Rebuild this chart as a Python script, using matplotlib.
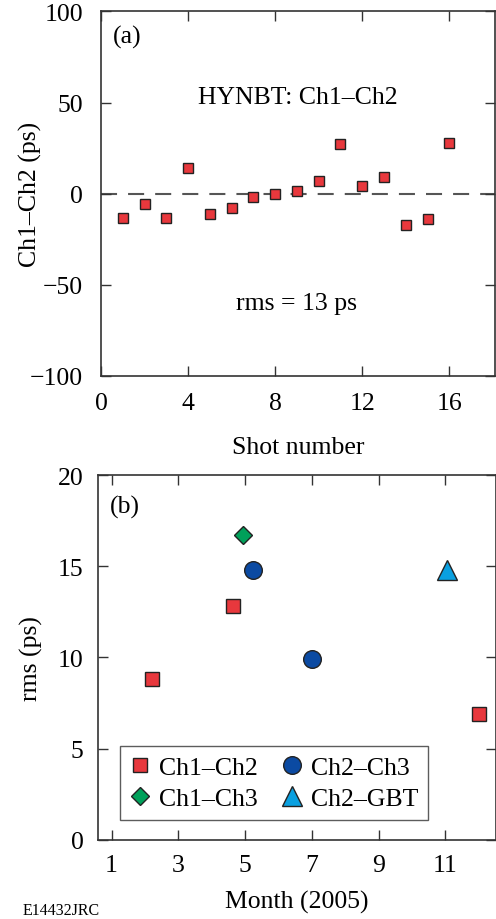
import numpy as np
import matplotlib
matplotlib.use('Agg')
import matplotlib.pyplot as plt

plt.rcParams['font.family'] = ['Liberation Serif', 'DejaVu Serif']
plt.rcParams['axes.unicode_minus'] = True

# ── (a) HYNBT shot-to-shot Ch1-Ch2 difference ─────────
shots = [1, 2, 3, 4, 5, 6, 7, 8, 9, 10, 11, 12, 13, 14, 15, 16]
ch1_ch2 = [-13.2, -5.9, -13.2, 14.1, -11.4, -8.1, -1.8, -0.5, 1.6, 7.0,
           27.0, 4.0, 9.2, -17.0, -14.1, 27.8]

# ── (b) rms by month ──────────────────────────────────
month_12 = [2.2, 4.65, 12.0]
rms_12 = [8.8, 12.8, 6.9]
month_13 = [4.95]
rms_13 = [16.7]
month_23 = [5.25, 7.0]
rms_23 = [14.8, 9.9]
month_gbt = [11.05]
rms_gbt = [14.8]

RED = '#e8383d'
GREEN = '#00a05a'
DBLUE = '#0b4aa2'
LBLUE = '#0aa0e0'
EDGE = '#222222'
FS = 18.5

fig = plt.figure(figsize=(4.96, 9.2), dpi=100)

def style(ax, xpad, ypad):
    ax.tick_params(direction='in', length=7, width=1.0, top=True, right=True,
                   labelsize=FS, color='#333333')
    ax.tick_params(axis='x', pad=xpad)
    ax.tick_params(axis='y', pad=ypad)
    for s in ax.spines.values():
        s.set_linewidth(1.2)
        s.set_color('#333333')

ax1 = fig.add_axes([0.2036, 0.5905, 0.7944, 0.396])
ax1.axhline(0, color='#555555', lw=1.5, dashes=(7.7, 5.3), zorder=1)
ax1.plot(shots, ch1_ch2, 's', ms=7.0, mfc=RED, mec=EDGE, mew=1.0, zorder=3)
ax1.set_xlim(0, 18.1)
ax1.set_ylim(-100, 100)
ax1.set_xticks([0, 4, 8, 12, 16])
ax1.set_yticks([-100, -50, 0, 50, 100])
style(ax1, 11.5, 13)
ax1.set_xlabel('Shot number', fontsize=FS, labelpad=16)
ax1.set_ylabel('Ch1–Ch2 (ps)', fontsize=FS)
ax1.yaxis.set_label_coords(-0.15, 0.5)
ax1.text(0.03, 0.93, '(a)', transform=ax1.transAxes, fontsize=FS, va='center', ha='left')
ax1.text(0.50, 0.765, 'HYNBT: Ch1–Ch2', transform=ax1.transAxes, fontsize=FS,
         va='center', ha='center')
ax1.text(0.495, 0.20, 'rms = 13 ps', transform=ax1.transAxes, fontsize=FS,
         va='center', ha='center')

ax2 = fig.add_axes([0.198, 0.0859, 0.801, 0.3967])
ax2.plot(month_12, rms_12, 's', ms=9.8, mfc=RED, mec=EDGE, mew=1.0, label='Ch1–Ch2')
ax2.plot(month_13, rms_13, 'D', ms=9.5, mfc=GREEN, mec=EDGE, mew=1.0, label='Ch1–Ch3')
ax2.plot(month_23, rms_23, 'o', ms=12.7, mfc=DBLUE, mec=EDGE, mew=1.0, label='Ch2–Ch3')
ax2.plot(month_gbt, rms_gbt, '^', ms=14, mfc=LBLUE, mec=EDGE, mew=1.0, label='Ch2–GBT')
ax2.set_xlim(0.6, 12.5)
ax2.set_ylim(0, 20)
ax2.set_xticks([1, 3, 5, 7, 9, 11])
ax2.set_yticks([0, 5, 10, 15, 20])
style(ax2, 10, 10.5)
ax2.set_xlabel('Month (2005)', fontsize=FS, labelpad=10)
ax2.set_ylabel('rms (ps)', fontsize=FS)
ax2.yaxis.set_label_coords(-0.14, 0.5)
ax2.text(0.03, 0.915, '(b)', transform=ax2.transAxes, fontsize=FS, va='center', ha='left')

handles, labels = ax2.get_legend_handles_labels()
leg = ax2.legend(handles, labels, loc='lower left', bbox_to_anchor=(0.055, 0.055),
                 ncol=2, fontsize=FS, frameon=True, fancybox=False,
                 handlelength=0.8, handletextpad=0.35, columnspacing=0.9,
                 borderpad=0.38, labelspacing=0.33, borderaxespad=0)
leg.get_frame().set_edgecolor('#333333')
leg.get_frame().set_linewidth(1.0)

fig.text(0.045, 0.0015, 'E14432JRC', fontsize=11.5, ha='left', va='bottom')

fig.savefig('out.png', dpi=100)
